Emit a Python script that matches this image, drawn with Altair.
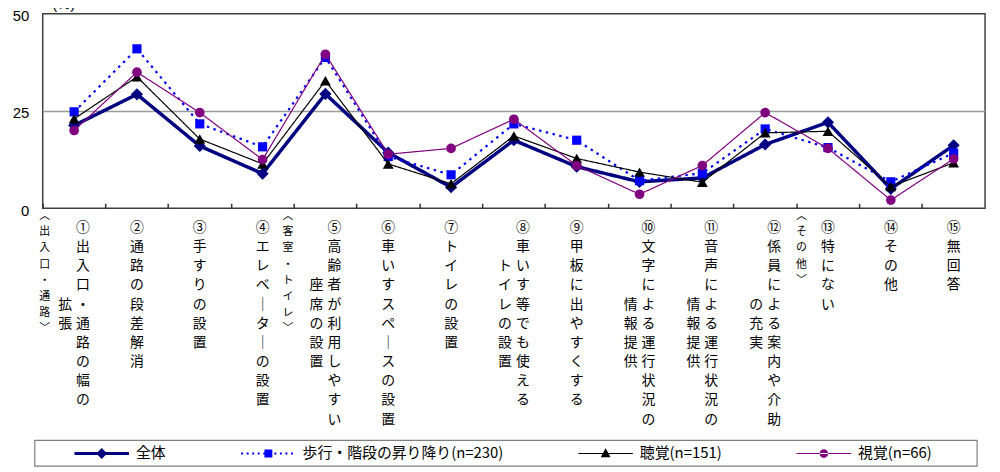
import math
import altair as alt
import pandas as pd

# ---------------- data ----------------
labels = [
    "①出入口・通路の幅の\n拡張",
    "②通路の段差解消",
    "③手すりの設置",
    "④エレベーターの設置",
    "⑤高齢者が利用しやすい\n座席の設置",
    "⑥車いすスペースの設置",
    "⑦トイレの設置",
    "⑧車いす等でも使える\nトイレの設置",
    "⑨甲板に出やすくする",
    "⑩文字による運行状況の\n情報提供",
    "⑪音声による運行状況の\n情報提供",
    "⑫係員による案内や介助\nの充実",
    "⑬特にない",
    "⑭その他",
    "⑮無回答",
]
series_names = ["全体", "歩行・階段の昇り降り(n=230)", "聴覚(n=151)", "視覚(n=66)"]
v_all = [21.3, 29.3, 16.0, 8.9, 29.4, 14.3, 5.4, 17.5, 10.7, 6.8, 7.8, 16.4, 22.1, 5.0, 16.2]
v_walk = [24.8, 41.0, 21.7, 15.8, 38.8, 13.3, 8.6, 21.7, 17.5, 7.1, 9.0, 20.4, 15.6, 6.8, 14.2]
v_hear = [23.0, 33.8, 17.8, 11.4, 32.8, 11.4, 6.3, 18.6, 12.8, 9.3, 6.7, 19.4, 19.8, 5.6, 11.7]
v_sight = [20.0, 35.0, 24.6, 12.5, 39.6, 13.9, 15.4, 22.9, 11.0, 3.6, 11.0, 24.6, 15.4, 2.1, 12.7]
group_labels = ["︿出入口・通路﹀", "︿客室・トイレ﹀", "︿その他﹀"]
group_first = [0, 4, 12]
y_ticks = [0, 25, 50]
y_title = "(%)"

# ---------------- styles ----------------
CJK = "Noto Sans CJK JP"
styles = {
    series_names[0]: dict(color="#000080", width=3.5, dash=[1, 0], shape="diamond", size=150),
    series_names[1]: dict(color="#0000FF", width=2.2, dash=[2.5, 4.5], shape="square", size=85),
    series_names[2]: dict(color="#000000", width=1.2, dash=[1, 0], shape="triangle-up", size=120),
    series_names[3]: dict(color="#800080", width=1.2, dash=[1, 0], shape="circle", size=95),
}
group_dx = [2, -6, 5]


def dotted(th, dot, gap):
    parts = []
    x = -1.0
    while x < 1.0:
        x2 = min(x + dot, 1.0)
        parts.append(f"M{x:.3f},{-th}H{x2:.3f}V{th}H{x:.3f}Z")
        x += dot + gap
    return "".join(parts)


legend_paths = [
    "M-1,-0.055H1V0.055H-1Z M0,-0.2L0.2,0L0,0.2L-0.2,0Z",
    dotted(0.036, 0.073, 0.13) + " M-0.145,-0.145H0.145V0.145H-0.145Z",
    "M-1,-0.022H1V0.022H-1Z M0,-0.19L0.18,0.14H-0.18Z",
    "M-1,-0.022H1V0.022H-1Z M-0.16,0A0.16,0.16,0,1,0,0.16,0A0.16,0.16,0,1,0,-0.16,0Z",
]

# ---------------- tables ----------------
cats = [l.replace("\n", "") for l in labels]
rows = []
for name, vals in zip(series_names, [v_all, v_walk, v_hear, v_sight]):
    for i, v in enumerate(vals):
        rows.append(dict(cat=cats[i], idx=i, series=name, value=v))
df = pd.DataFrame(rows)

VERT = {"ー": "｜"}
chars = []
for i, lab in enumerate(labels):
    cols = lab.split("\n")
    n1 = len(cols[0])
    for c, s in enumerate(cols):
        start = 0 if c == 0 else math.ceil((n1 - len(s)) / 2)
        for r, ch in enumerate(s):
            chars.append(dict(cat=cats[i], col=c, ncol=len(cols), row=start + r, ch=VERT.get(ch, ch)))
lab_df = pd.DataFrame(chars)

grows = []
for gi, (g, first) in enumerate(zip(group_labels, group_first)):
    for r, ch in enumerate(g):
        grows.append(dict(cat=cats[first], g=gi, row=r, ch=ch))
grp_df = pd.DataFrame(grows)

# ---------------- encodings ----------------
X_AXIS = alt.Axis(title=None, labels=False, domain=False, grid=False, ticks=True,
                  tickSize=5, offset=-5, bandPosition=0, tickColor="#333333", tickWidth=1.5)
x_scale = alt.Scale(type="band", domain=cats, paddingInner=0, paddingOuter=0)
x_enc = alt.X("cat:N", sort=cats, scale=x_scale, axis=X_AXIS)

Y_AXIS = alt.Axis(values=y_ticks, title=y_title, titleAngle=0, titleX=9, titleY=-2,
                  titleAlign="left", titleBaseline="bottom", titleFont="Liberation Sans",
                  titleFontSize=15, titleFontWeight="normal", titleColor="black",
                  labelFont="Liberation Sans", labelFontSize=15, labelColor="black",
                  labelPadding=14, labelOffset=2, labelFlush=False, ticks=False, domain=False,
                  grid=True, gridColor="#9a9a9a", gridWidth=1.5,
                  gridOpacity={"condition": {"test": "datum.value === 25", "value": 1}, "value": 0})
y_enc = alt.Y("value:Q", scale=alt.Scale(domain=[0, 50], nice=False, zero=True), axis=Y_AXIS)

layers = []
for name in series_names:
    st = styles[name]
    base = alt.Chart(df).transform_filter(alt.datum.series == name)
    layers.append(base.mark_line(color=st["color"], strokeWidth=st["width"], strokeDash=st["dash"])
                  .encode(x=x_enc, y=y_enc, order=alt.Order("idx:Q")))
    layers.append(base.mark_point(shape=st["shape"], filled=True, size=st["size"], color=st["color"], opacity=1)
                  .encode(x=x_enc, y=y_enc))

LEG = alt.Legend(title=None, orient="none", legendX=32, legendY=415.5, direction="horizontal",
                 columns=4, columnPadding=75, padding=0, symbolSize=3025, symbolStrokeWidth=0,
                 labelFont=CJK, labelFontSize=15, labelColor="black", labelOffset=7, labelLimit=0,
                 symbolOpacity=1)
legend_layer = alt.Chart(df).transform_filter("datum.value < 0").mark_point(filled=True, opacity=1).encode(
    x=x_enc, y=y_enc,
    fill=alt.Fill("series:N", scale=alt.Scale(domain=series_names, range=[styles[s]["color"] for s in series_names]), legend=LEG),
    shape=alt.Shape("series:N", scale=alt.Scale(domain=series_names, range=legend_paths), legend=LEG),
)
layers.append(legend_layer)
inner = alt.layer(*layers)

y_row = alt.Y("row:Q", scale=alt.Scale(domain=[0, 10], range=[216, 409], zero=False, nice=False), axis=None)
lab_base = alt.Chart(lab_df)
txt = dict(font=CJK, fontSize=14, baseline="middle", align="center", color="black")
t_single = lab_base.transform_filter("datum.ncol == 1").mark_text(dx=0, **txt).encode(x=x_enc, y=y_row, text="ch:N")
t_c0 = lab_base.transform_filter("datum.ncol == 2 && datum.col == 0").mark_text(dx=9, **txt).encode(x=x_enc, y=y_row, text="ch:N")
t_c1 = lab_base.transform_filter("datum.ncol == 2 && datum.col == 1").mark_text(dx=-9, **txt).encode(x=x_enc, y=y_row, text="ch:N")
label_layer = alt.layer(t_single, t_c0, t_c1)

y_grp = alt.Y("row:Q", scale=alt.Scale(domain=[0, 7], range=[204, 318], zero=False, nice=False), axis=None)
grp_layers = []
for gi in range(len(group_labels)):
    grp_layers.append(
        alt.Chart(grp_df).transform_filter(alt.datum.g == gi)
        .mark_text(dx=group_dx[gi], font=CJK, fontSize=11, baseline="middle", align="center", color="black")
        .encode(x=alt.X("cat:N", sort=cats, scale=x_scale, axis=X_AXIS, bandPosition=0), y=y_grp, text="ch:N"))
grp_layer = alt.layer(*grp_layers)

box = alt.Chart(pd.DataFrame({"k": [0]})).mark_rect(fill="white", fillOpacity=0, stroke="#7f7f7f", strokeWidth=1.2).encode(
    x=alt.value(-8), x2=alt.value(942), y=alt.value(430), y2=alt.value(456))

chart = alt.layer(inner, label_layer, grp_layer, box).resolve_scale(y="independent").properties(
    width=950, height=196,
    autosize=alt.AutoSizeParams(type="none"),
    padding={"left": 35, "top": 4, "right": 7, "bottom": 264},
).configure_view(stroke="#404040", strokeWidth=1.5)

chart.save("out.html", embed_options={"renderer": "svg", "actions": False})
